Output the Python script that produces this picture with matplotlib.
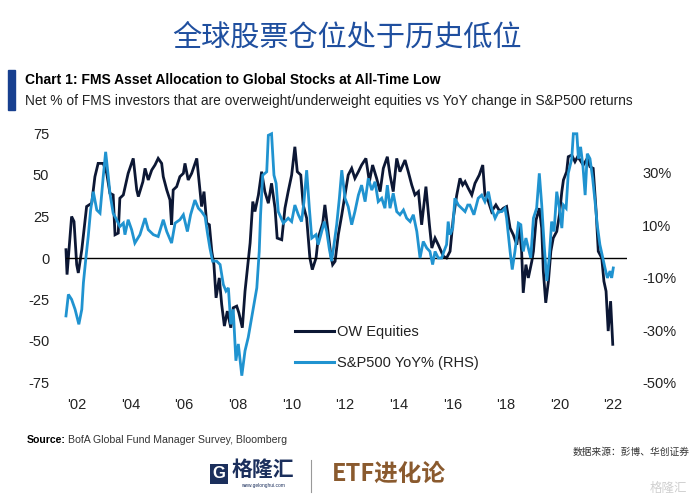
import matplotlib
matplotlib.use("Agg")
import matplotlib.pyplot as plt
from matplotlib.patches import Rectangle
from matplotlib.lines import Line2D

plt.rcParams["font.family"] = ["Liberation Sans", "Noto Sans CJK SC", "DejaVu Sans"]

# FMS net % overweight equities (LHS)
ow_year = [
    2001.59, 2001.63, 2001.80, 2001.89, 2001.99, 2002.05, 2002.18, 2002.36, 2002.55, 2002.67,
    2002.79, 2002.98, 2003.11, 2003.23, 2003.35, 2003.42, 2003.54, 2003.60, 2003.73, 2003.91,
    2004.10, 2004.23, 2004.29, 2004.46, 2004.54, 2004.66, 2004.79, 2004.91, 2005.03, 2005.16,
    2005.22, 2005.35, 2005.47, 2005.53, 2005.59, 2005.72, 2005.84, 2005.97, 2006.03, 2006.15,
    2006.28, 2006.47, 2006.59, 2006.65, 2006.74, 2006.84, 2006.94, 2007.03, 2007.11, 2007.19,
    2007.31, 2007.40, 2007.50, 2007.61, 2007.74, 2007.83, 2007.96, 2008.04, 2008.17, 2008.27,
    2008.35, 2008.46, 2008.56, 2008.64, 2008.77, 2008.89, 2009.01, 2009.14, 2009.26, 2009.39,
    2009.47, 2009.64, 2009.76, 2009.88, 2010.01, 2010.13, 2010.22, 2010.35, 2010.44, 2010.57,
    2010.69, 2010.78, 2010.92, 2011.00, 2011.17, 2011.25, 2011.38, 2011.47, 2011.54, 2011.63,
    2011.75, 2011.88, 2012.00, 2012.12, 2012.25, 2012.37, 2012.50, 2012.62, 2012.78, 2012.91,
    2013.03, 2013.18, 2013.31, 2013.43, 2013.58, 2013.68, 2013.80, 2013.93, 2014.05, 2014.24,
    2014.36, 2014.49, 2014.61, 2014.74, 2014.86, 2015.02, 2015.15, 2015.24, 2015.36, 2015.48,
    2015.67, 2015.79, 2015.92, 2016.04, 2016.17, 2016.29, 2016.39, 2016.48, 2016.60, 2016.73,
    2016.85, 2017.01, 2017.14, 2017.22, 2017.35, 2017.47, 2017.63, 2017.78, 2017.91, 2018.03,
    2018.16, 2018.28, 2018.41, 2018.50, 2018.59, 2018.65, 2018.75, 2018.84, 2018.97, 2019.03,
    2019.13, 2019.25, 2019.34, 2019.40, 2019.49, 2019.59, 2019.68, 2019.77, 2019.90, 2020.00,
    2020.09, 2020.15, 2020.27, 2020.33, 2020.46, 2020.58, 2020.68, 2020.77, 2020.89, 2021.04,
    2021.14, 2021.26, 2021.37, 2021.45, 2021.58, 2021.66, 2021.74, 2021.82, 2021.91, 2021.99,
]
ow_value = [
    5, -10, 25, 22, -4, -9, 5, 31, 33, 49,
    57, 57, 51, 39, 38, 14, 15, 36, 38, 51,
    60, 41, 37, 46, 54, 47, 53, 56, 60, 57,
    49, 41, 35, 20, 41, 43, 49, 51, 57, 47,
    51, 60, 41, 31, 40, 21, 20, 4, -4, -24,
    -12, -28, -41, -32, -42, -30, -29, -33, -42, -20,
    -8, 9, 34, 28, 38, 52, 40, 33, 45, 30,
    12, 11, 30, 40, 50, 67, 52, 50, 32, 24,
    0, -7, 0, 12, 21, 32, 14, 2, -4, -2,
    14, 26, 38, 50, 54, 48, 52, 56, 60, 46,
    56, 48, 40, 54, 61, 50, 40, 60, 52, 59,
    52, 44, 38, 40, 20, 43, 20, 6, 12, 8,
    1, 0, 4, 24, 38, 48, 44, 46, 42, 38,
    45, 50, 56, 38, 34, 28, 32, 28, 30, 31,
    18, 14, 8, 20, 4, -21, -4, -12, -2, 4,
    23, 30, 18, -8, -27, -14, 4, 12, 16, 26,
    40, 47, 52, 61, 62, 58, 61, 59, 56, 60,
    55, 54, 28, 4, 0, -14, -20, -44, -26, -52,
]

# S&P500 YoY % (RHS)
spx_year = [
    2001.59, 2001.68, 2001.80, 2001.93, 2002.07, 2002.18, 2002.24, 2002.34, 2002.42, 2002.51,
    2002.61, 2002.74, 2002.86, 2002.98, 2003.07, 2003.17, 2003.23, 2003.35, 2003.48, 2003.60,
    2003.73, 2003.79, 2003.91, 2004.04, 2004.16, 2004.35, 2004.54, 2004.66, 2004.85, 2005.03,
    2005.22, 2005.35, 2005.53, 2005.66, 2005.84, 2005.97, 2006.12, 2006.24, 2006.40, 2006.53,
    2006.65, 2006.78, 2006.86, 2006.96, 2007.06, 2007.21, 2007.34, 2007.46, 2007.56, 2007.65,
    2007.74, 2007.83, 2007.93, 2008.02, 2008.15, 2008.27, 2008.39, 2008.56, 2008.71, 2008.80,
    2008.85, 2008.93, 2009.08, 2009.14, 2009.26, 2009.35, 2009.43, 2009.51, 2009.70, 2009.88,
    2010.01, 2010.13, 2010.26, 2010.38, 2010.47, 2010.57, 2010.67, 2010.76, 2010.92, 2011.00,
    2011.13, 2011.23, 2011.32, 2011.41, 2011.50, 2011.59, 2011.69, 2011.79, 2011.88, 2012.00,
    2012.12, 2012.25, 2012.37, 2012.50, 2012.62, 2012.75, 2012.87, 2013.00, 2013.12, 2013.24,
    2013.37, 2013.49, 2013.58, 2013.68, 2013.80, 2013.93, 2014.05, 2014.18, 2014.30, 2014.43,
    2014.55, 2014.68, 2014.80, 2014.92, 2015.05, 2015.17, 2015.27, 2015.36, 2015.48, 2015.61,
    2015.69, 2015.79, 2015.85, 2015.92, 2016.02, 2016.10, 2016.23, 2016.35, 2016.48, 2016.58,
    2016.66, 2016.81, 2016.97, 2017.10, 2017.22, 2017.35, 2017.47, 2017.60, 2017.72, 2017.85,
    2017.97, 2018.03, 2018.16, 2018.24, 2018.34, 2018.47, 2018.56, 2018.65, 2018.75, 2018.84,
    2018.93, 2019.03, 2019.15, 2019.25, 2019.34, 2019.43, 2019.53, 2019.62, 2019.71, 2019.80,
    2019.90, 2020.00, 2020.09, 2020.15, 2020.25, 2020.33, 2020.46, 2020.52, 2020.65, 2020.71,
    2020.79, 2020.88, 2020.96, 2021.04, 2021.14, 2021.24, 2021.33, 2021.41, 2021.51, 2021.62,
    2021.70, 2021.79, 2021.89, 2021.95, 2022.01,
]
spx_yoy = [
    -24.6, -16.4, -18.3, -22.1, -27.8, -22.1, -12.0, -1.8, 5.7, 15.8,
    22.8, 15.8, 14.6, 28.5, 38.0, 28.5, 22.2, 14.6, 12.1, 9.5,
    10.8, 6.4, 12.1, 8.3, 3.2, 6.4, 12.7, 8.3, 6.4, 5.7,
    12.1, 7.6, 3.2, 10.8, 12.1, 14.0, 7.6, 14.0, 19.6, 16.5,
    15.2, 13.3, 7.6, 1.3, -3.7, -3.7, -5.0, -12.6, -15.1, -13.9,
    -27.8, -22.1, -41.7, -35.3, -47.4, -37.9, -32.8, -22.7, -13.9, 0.0,
    14.0, 29.1, 30.4, 44.3, 44.9, 29.1, 26.0, 15.2, 10.8, 12.7,
    11.4, 17.7, 14.0, 11.4, 19.0, 31.0, 16.5, 5.1, 6.4, 2.6,
    7.6, 11.4, 7.6, 1.3, -3.7, 2.6, 10.2, 20.3, 31.0, 20.3,
    17.1, 10.2, 15.2, 21.5, 25.3, 19.0, 27.9, 23.4, 26.6, 19.0,
    20.3, 16.5, 25.3, 16.5, 22.2, 15.2, 14.0, 15.8, 12.7, 11.4,
    14.0, 7.6, -2.5, 3.8, 1.3, 0.0, -5.0, 0.0, -2.5, -2.5,
    0.0, 2.6, 11.4, 6.4, 8.9, 20.3, 17.7, 16.5, 15.2, 17.7,
    17.7, 14.0, 20.3, 21.5, 19.0, 22.8, 16.5, 12.7, 15.2, 15.2,
    16.5, 12.7, 0.0, -6.9, 0.0, 10.8, 10.2, 0.0, 5.1, 1.3,
    -2.5, 12.7, 16.5, 29.8, 17.7, 2.6, -11.3, -2.5, 11.4, 7.6,
    22.8, 16.5, 8.9, 17.7, 16.5, 29.8, 35.4, 44.9, 44.9, 35.4,
    39.9, 32.3, 21.5, 37.3, 35.4, 27.9, 19.0, 10.2, 2.6, -2.5,
    -6.3, -10.1, -7.5, -10.1, -6.3,
]

x_ticks = [2002, 2004, 2006, 2008, 2010, 2012, 2014, 2016, 2018, 2020, 2022]
x_labels = ["'02", "'04", "'06", "'08", "'10", "'12", "'14", "'16", "'18", "'20", "'22"]
left_ticks = [75, 50, 25, 0, -25, -50, -75]
right_ticks = [30, 10, -10, -30, -50]
right_labels = ["30%", "10%", "-10%", "-30%", "-50%"]

NAVY = "#0c1734"
BLUE = "#2093d0"
TXT = "#222222"
SANS = ["Liberation Sans", "DejaVu Sans"]
CJK = ["Noto Sans CJK SC", "DejaVu Sans"]

fig = plt.figure(figsize=(6.93, 5.0), dpi=100)
fig.patch.set_facecolor("white")

ax = fig.add_axes([0.0952, 0.235, 0.8095, 0.498])
ax2 = ax.twinx()

ax.plot(ow_year, ow_value, color=NAVY, lw=2.0, clip_on=False, solid_joinstyle="miter")
ax2.plot(spx_year, spx_yoy, color=BLUE, lw=2.0, clip_on=False, solid_joinstyle="miter")
ax.axhline(0, color="black", lw=1.0)

ax.set_xlim(2001.59, 2022.52)
ax.set_ylim(-75, 75)
ax2.set_ylim(-50, 45)

ax.set_xticks(x_ticks)
ax.set_xticklabels(x_labels)
ax.set_yticks(left_ticks)
ax.set_yticklabels([str(v) for v in left_ticks])
ax2.set_yticks(right_ticks)
ax2.set_yticklabels(right_labels)

for a in (ax, ax2):
    for s in a.spines.values():
        s.set_visible(False)
    a.tick_params(length=0, labelsize=10.5, colors=TXT)
ax.tick_params(axis="y", pad=12)
ax.tick_params(axis="x", pad=11)
ax2.tick_params(axis="y", pad=11)

handles = [Line2D([], [], color=NAVY, lw=2.2), Line2D([], [], color=BLUE, lw=2.2)]
fig.legend(handles, ["OW Equities", "S&P500 YoY% (RHS)"], loc="upper left",
           bbox_to_anchor=(0.4257, 0.350), frameon=False, fontsize=10.5,
           handlelength=2.7, handletextpad=0.15, labelspacing=1.2,
           borderpad=0, borderaxespad=0, labelcolor=TXT)

# headings
fig.text(0.5, 0.924, "全球股票仓位处于历史低位", ha="center", va="center",
         fontsize=21, color="#1f4f9f", family=CJK)
fig.patches.append(Rectangle((8 / 693, 1 - 110 / 500), 7 / 693, 40 / 500,
                             transform=fig.transFigure, color="#173f8f"))
fig.text(25 / 693, 1 - 80 / 500, "Chart 1: FMS Asset Allocation to Global Stocks at All-Time Low",
         ha="left", va="center", fontsize=10, fontweight="bold", color="black", family=SANS)
fig.text(25 / 693, 1 - 101 / 500,
         "Net % of FMS investors that are overweight/underweight equities vs YoY change in S&P500 returns",
         ha="left", va="center", fontsize=9.9, color="#222222", family=SANS)

# source lines
fig.text(27 / 693, 1 - 440 / 500, "Source:", ha="left", va="center", fontsize=7.6,
         fontweight="bold", family=SANS)
fig.text(68 / 693, 1 - 440 / 500, "BofA Global Fund Manager Survey, Bloomberg", ha="left",
         va="center", fontsize=7.6, color="#333333", family=SANS)
fig.text(690 / 693, 1 - 452 / 500, "数据来源：彭博、华创证券", ha="right", va="center",
         fontsize=7, color="#333333", family=CJK)

# footer logo
fig.text(219 / 693, 1 - 474 / 500, "G", ha="center", va="center", fontsize=12,
         fontweight="bold", color="white",
         bbox=dict(boxstyle="square,pad=0.15", fc="#1b2f5c", ec="none"))
fig.text(263 / 693, 1 - 469 / 500, "格隆汇", ha="center", va="center", fontsize=15,
         color="#1b2f5c", fontweight="bold", family=CJK)
fig.text(263 / 693, 1 - 485 / 500, "www.gelonghui.com", ha="center", va="center",
         fontsize=3.5, color="#1b2f5c")
fig.add_artist(Line2D([311 / 693, 311 / 693], [1 - 460 / 500, 1 - 492 / 500],
                      transform=fig.transFigure, color="#999999", lw=0.8))
fig.text(389 / 693, 1 - 474 / 500, "ETF进化论", ha="center", va="center", fontsize=17,
         fontweight="bold", color="#8a5a2e", family=CJK)
fig.text(668 / 693, 1 - 488 / 500, "格隆汇", ha="center", va="center", fontsize=9,
         color="#d0d0d0", family=CJK)

fig.savefig("out.png", dpi=100, facecolor="white")
